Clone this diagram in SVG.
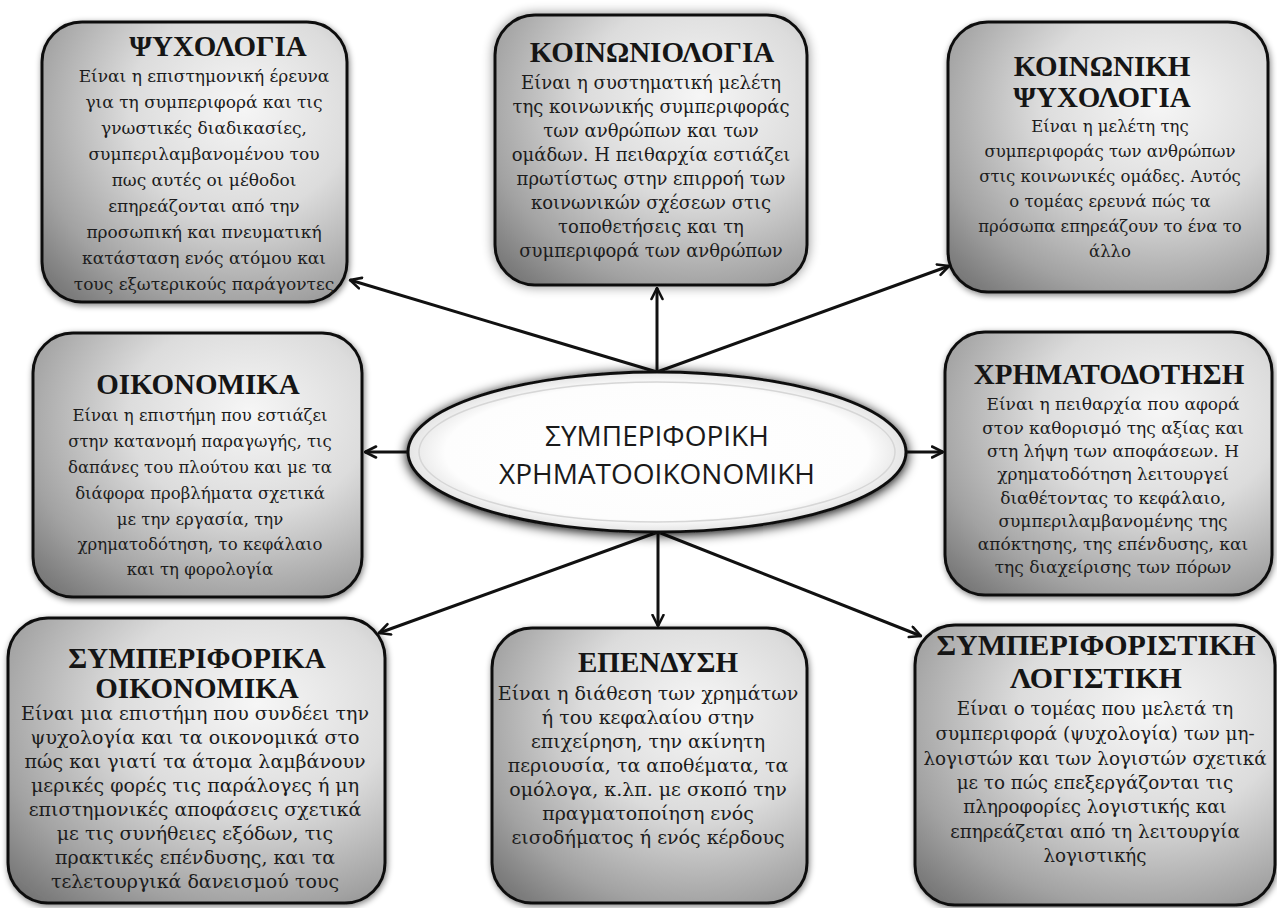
<svg xmlns="http://www.w3.org/2000/svg" width="1277" height="908" viewBox="0 0 1277 908">
<style>
.box{fill:url(#boxGrad);stroke:#111;stroke-width:3;filter:url(#shadow)}
.title{font-family:"Liberation Serif","DejaVu Serif",serif;font-weight:bold;font-size:29px;fill:#151515;text-anchor:middle}
.body{font-family:"DejaVu Serif","Liberation Serif",serif;font-size:16.5px;fill:#1c1c1c;text-anchor:middle}
.conn{stroke:#111;stroke-width:3;fill:none;marker-end:url(#arrow)}
.center{font-family:"Open Sans","Liberation Sans",sans-serif;font-size:28px;fill:#1a1a1a;text-anchor:middle}
</style>
<defs>
<radialGradient id="boxGrad" cx="0.65" cy="0.33" r="0.92" fx="0.66" fy="0.3">
<stop offset="0" stop-color="#f6f6f6"/>
<stop offset="0.4" stop-color="#dcdcdc"/>
<stop offset="0.75" stop-color="#a2a2a2"/>
<stop offset="1" stop-color="#6c6c6c"/>
</radialGradient>
<radialGradient id="ellGrad" cx="0.5" cy="0.5" r="0.5">
<stop offset="0" stop-color="#ffffff"/>
<stop offset="0.85" stop-color="#fdfdfd"/>
<stop offset="1" stop-color="#e4e4e4"/>
</radialGradient>
<filter id="shadow" x="-10%" y="-10%" width="120%" height="120%">
<feGaussianBlur in="SourceAlpha" stdDeviation="3"/>
<feOffset dx="1" dy="2" result="b"/>
<feComponentTransfer><feFuncA type="linear" slope="0.5"/></feComponentTransfer>
<feMerge><feMergeNode/><feMergeNode in="SourceGraphic"/></feMerge>
</filter>
<filter id="glow" x="-15%" y="-15%" width="130%" height="130%">
<feGaussianBlur in="SourceAlpha" stdDeviation="6"/>
<feComponentTransfer><feFuncA type="linear" slope="0.45"/></feComponentTransfer>
<feMerge><feMergeNode/><feMergeNode in="SourceGraphic"/></feMerge>
</filter>
<filter id="ellShadow" x="-10%" y="-25%" width="120%" height="150%">
<feGaussianBlur in="SourceAlpha" stdDeviation="6"/>
<feOffset dx="0" dy="2"/>
<feComponentTransfer><feFuncA type="linear" slope="1"/></feComponentTransfer>
<feMerge><feMergeNode/><feMergeNode in="SourceGraphic"/></feMerge>
</filter>
<marker id="arrow" viewBox="0 0 14 14" refX="12.5" refY="7" markerWidth="14" markerHeight="14" markerUnits="userSpaceOnUse" orient="auto">
<path d="M1.5,1.5 L12.5,7 L1.5,12.5" fill="none" stroke="#111" stroke-width="2.6" stroke-linecap="round" stroke-linejoin="round"/>
</marker>
</defs>
<rect width="1277" height="908" fill="#ffffff"/>

<g id="connectors">
<line class="conn" x1="657" y1="372" x2="657" y2="288"/>
<line class="conn" x1="657" y1="372" x2="350" y2="280"/>
<line class="conn" x1="657" y1="372" x2="949" y2="266"/>
<line class="conn" x1="408" y1="452" x2="365" y2="452"/>
<line class="conn" x1="906" y1="452" x2="943" y2="452"/>
<line class="conn" x1="658" y1="532" x2="658" y2="626"/>
<line class="conn" x1="658" y1="532" x2="379" y2="633"/>
<line class="conn" x1="658" y1="532" x2="921" y2="636"/>
</g>

<g id="center">
<ellipse cx="657" cy="452" rx="249" ry="80" fill="url(#ellGrad)" stroke="#111" stroke-width="3" filter="url(#ellShadow)"/>
<ellipse cx="657" cy="452" rx="238" ry="70" fill="none" stroke="#d6d6d6" stroke-width="1.5"/>
<text class="center" x="657" y="446">ΣΥΜΠΕΡΙΦΟΡΙΚΗ</text>
<text class="center" x="657" y="484">ΧΡΗΜΑΤΟΟΙΚΟΝΟΜΙΚΗ</text>
</g>

<g id="psychologia">
<rect class="box" x="42" y="22" width="305" height="280" rx="40"/>
<text class="title" x="218" y="56">ΨΥΧΟΛΟΓΙΑ</text>
<text class="body" style="font-size:17px"><tspan x="204" y="82">Είναι η επιστημονική έρευνα</tspan><tspan x="204" y="108">για τη συμπεριφορά και τις</tspan><tspan x="204" y="134">γνωστικές διαδικασίες,</tspan><tspan x="204" y="160">συμπεριλαμβανομένου του</tspan><tspan x="204" y="186">πως αυτές οι μέθοδοι</tspan><tspan x="204" y="212">επηρεάζονται από την</tspan><tspan x="204" y="238">προσωπική και πνευματική</tspan><tspan x="204" y="264">κατάσταση ενός ατόμου και</tspan><tspan x="204" y="290">τους εξωτερικούς παράγοντες</tspan></text>
</g>

<g id="koinoniologia">
<rect class="box" x="495" y="15" width="312" height="270" rx="40" style="filter:url(#glow)"/>
<text class="title" x="652" y="62">ΚΟΙΝΩΝΙΟΛΟΓΙΑ</text>
<text class="body" style="font-size:18px"><tspan x="651" y="89">Είναι η συστηματική μελέτη</tspan><tspan x="651" y="113">της κοινωνικής συμπεριφοράς</tspan><tspan x="651" y="137">των ανθρώπων και των</tspan><tspan x="651" y="161">ομάδων. Η πειθαρχία εστιάζει</tspan><tspan x="651" y="185">πρωτίστως στην επιρροή των</tspan><tspan x="651" y="209">κοινωνικών σχέσεων στις</tspan><tspan x="651" y="233">τοποθετήσεις και τη</tspan><tspan x="651" y="257">συμπεριφορά των ανθρώπων</tspan></text>
</g>

<g id="koinoniki-psychologia">
<rect class="box" x="948" y="22" width="320" height="270" rx="40"/>
<text class="title" x="1102" y="76">ΚΟΙΝΩΝΙΚΗ</text>
<text class="title" x="1102" y="107">ΨΥΧΟΛΟΓΙΑ</text>
<text class="body"><tspan x="1110" y="132">Είναι η μελέτη της</tspan><tspan x="1110" y="157">συμπεριφοράς των ανθρώπων</tspan><tspan x="1110" y="182">στις κοινωνικές ομάδες. Αυτός</tspan><tspan x="1110" y="207">ο τομέας ερευνά πώς τα</tspan><tspan x="1110" y="232">πρόσωπα επηρεάζουν το ένα το</tspan><tspan x="1110" y="257">άλλο</tspan></text>
</g>

<g id="oikonomika">
<rect class="box" x="33" y="333" width="329" height="264" rx="40"/>
<text class="title" x="198" y="394">ΟΙΚΟΝΟΜΙΚΑ</text>
<text class="body"><tspan x="200" y="421">Είναι η επιστήμη που εστιάζει</tspan><tspan x="200" y="447">στην κατανομή παραγωγής, τις</tspan><tspan x="200" y="473">δαπάνες του πλούτου και με τα</tspan><tspan x="200" y="499">διάφορα προβλήματα σχετικά</tspan><tspan x="200" y="525">με την εργασία, την</tspan><tspan x="200" y="550">χρηματοδότηση, το κεφάλαιο</tspan><tspan x="200" y="575">και τη φορολογία</tspan></text>
</g>

<g id="chrimatodotisi">
<rect class="box" x="945" y="332" width="327" height="263" rx="40"/>
<text class="title" x="1109" y="384">ΧΡΗΜΑΤΟΔΟΤΗΣΗ</text>
<text class="body" style="font-size:17px"><tspan x="1113" y="410">Είναι η πειθαρχία που αφορά</tspan><tspan x="1113" y="434">στον καθορισμό της αξίας και</tspan><tspan x="1113" y="457">στη λήψη των αποφάσεων. Η</tspan><tspan x="1113" y="480">χρηματοδότηση λειτουργεί</tspan><tspan x="1113" y="504">διαθέτοντας το κεφάλαιο,</tspan><tspan x="1113" y="527">συμπεριλαμβανομένης της</tspan><tspan x="1113" y="550">απόκτησης, της επένδυσης, και</tspan><tspan x="1113" y="573">της διαχείρισης των πόρων</tspan></text>
</g>

<g id="symperiforika-oikonomika">
<rect class="box" x="8" y="618" width="377" height="285" rx="40"/>
<text class="title" x="197" y="668">ΣΥΜΠΕΡΙΦΟΡΙΚΑ</text>
<text class="title" x="197" y="698">ΟΙΚΟΝΟΜΙΚΑ</text>
<text class="body" style="font-size:19px"><tspan x="195" y="720">Είναι μια επιστήμη που συνδέει την</tspan><tspan x="195" y="744">ψυχολογία και τα οικονομικά στο</tspan><tspan x="195" y="768">πώς και γιατί τα άτομα λαμβάνουν</tspan><tspan x="195" y="792">μερικές φορές τις παράλογες ή μη</tspan><tspan x="195" y="816">επιστημονικές αποφάσεις σχετικά</tspan><tspan x="195" y="840">με τις συνήθειες εξόδων, τις</tspan><tspan x="195" y="864">πρακτικές επένδυσης, και τα</tspan><tspan x="195" y="888">τελετουργικά δανεισμού τους</tspan></text>
</g>

<g id="ependysi">
<rect class="box" x="492" y="628" width="315" height="275" rx="40"/>
<text class="title" x="658" y="672">ΕΠΕΝΔΥΣΗ</text>
<text class="body" style="font-size:19px"><tspan x="648" y="700">Είναι η διάθεση των χρημάτων</tspan><tspan x="648" y="724">ή του κεφαλαίου στην</tspan><tspan x="648" y="748">επιχείρηση, την ακίνητη</tspan><tspan x="648" y="772">περιουσία, τα αποθέματα, τα</tspan><tspan x="648" y="796">ομόλογα, κ.λπ. με σκοπό την</tspan><tspan x="648" y="820">πραγματοποίηση ενός</tspan><tspan x="648" y="844">εισοδήματος ή ενός κέρδους</tspan></text>
</g>

<g id="symperiforistiki-logistiki">
<rect class="box" x="915" y="625" width="360" height="280" rx="40"/>
<text class="title" x="1096" y="655" style="font-size:30px">ΣΥΜΠΕΡΙΦΟΡΙΣΤΙΚΗ</text>
<text class="title" x="1096" y="688" style="font-size:30px">ΛΟΓΙΣΤΙΚΗ</text>
<text class="body" style="font-size:18.3px"><tspan x="1095" y="715">Είναι ο τομέας που μελετά τη</tspan><tspan x="1095" y="740">συμπεριφορά (ψυχολογία) των μη-</tspan><tspan x="1095" y="765">λογιστών και των λογιστών σχετικά</tspan><tspan x="1095" y="789">με το πώς επεξεργάζονται τις</tspan><tspan x="1095" y="813">πληροφορίες λογιστικής και</tspan><tspan x="1095" y="838">επηρεάζεται από τη λειτουργία</tspan><tspan x="1095" y="862">λογιστικής</tspan></text>
</g>
</svg>
